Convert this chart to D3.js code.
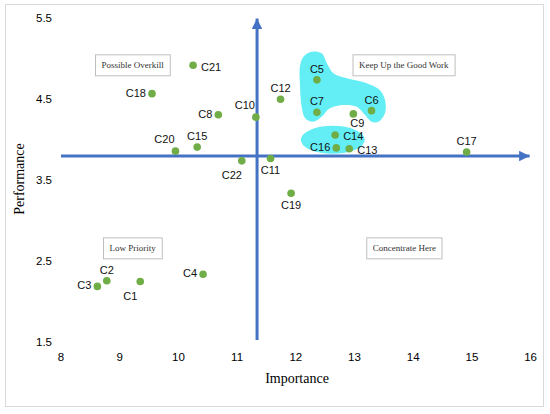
<!DOCTYPE html>
<html>
<head>
<meta charset="utf-8">
<script src="https://cdn.jsdelivr.net/npm/d3@7"></script>
<style>
body{margin:0;background:#fff;}
</style>
</head>
<body>
<div id="chart"></div>
<script>
// Importance-performance matrix
var names = ["C1","C2","C3","C4","C5","C6","C7","C8","C9","C10","C11","C12","C13","C14","C15","C16","C17","C18","C19","C20","C21","C22"];
var importance = [9.35,8.78,8.62,10.42,12.36,13.29,12.36,10.68,12.98,11.32,11.57,11.74,12.91,12.67,10.32,12.69,14.91,9.55,11.92,9.95,10.25,11.08];
var performance = [2.24,2.25,2.18,2.33,4.73,4.35,4.33,4.30,4.31,4.27,3.76,4.49,3.88,4.05,3.90,3.89,3.84,4.56,3.33,3.85,4.91,3.73];
var xTicks = [8,9,10,11,12,13,14,15,16];
var yTicks = [1.5,2.5,3.5,4.5,5.5];
var crossX = 11.34, crossY = 3.79;
var quadNames = ["Possible Overkill","Keep Up the Good Work","Low Priority","Concentrate Here"];
var quadX = [9.22,13.84,9.22,13.85];
var quadY = [4.91,4.91,2.65,2.65];
// highlighted groups (data units)
var blobX = [12.13,12.27,12.44,12.53,12.64,12.87,13.21,13.43,13.52,13.52,13.41,13.29,13.18,13.04,12.81,12.58,12.44,12.30,12.16,12.10,12.07,12.07];
var blobY = [5.016,5.078,5.058,4.935,4.811,4.749,4.688,4.605,4.481,4.321,4.214,4.214,4.296,4.399,4.420,4.379,4.275,4.214,4.256,4.399,4.688,4.893];
var ovalCx = 12.63, ovalCy = 3.99, ovalRx = 0.545, ovalRy = 0.173;

// where each point label sits
var labelSide = {C1:"bl",C2:"t",C3:"l",C4:"l",C5:"t",C6:"t",C7:"t",C8:"l",C9:"br",C10:"tl",C11:"b",
	C12:"t",C13:"r",C14:"r",C15:"t",C16:"l",C17:"t",C18:"l",C19:"b",C20:"tl",C21:"r",C22:"bl"};
var sideOff = {t:[0,-11,"middle"],b:[0,11.5,"middle"],br:[4,9.5,"middle"],l:[-6,-1,"end"],r:[8,1.5,"start"],tl:[-11,-12,"middle"],bl:[-10,14,"middle"]};

var width = 550, height = 414;
var blue = "#4472C4", green = "#70AD47";

var x = d3.scaleLinear().domain([8,16]).range([61,530.6]);
var y = d3.scaleLinear().domain([1.5,5.5]).range([341.5,17.5]);

var svg = d3.select("#chart").append("svg")
	.attr("width",width)
	.attr("height",height);

svg.append("rect")
	.attr("x",5.5).attr("y",4.5)
	.attr("width",538).attr("height",402)
	.attr("fill","#fff")
	.attr("stroke","#d9d9d9");

// cyan groups
svg.append("path")
	.datum(d3.range(blobX.length))
	.attr("d",d3.line().x(i=>x(blobX[i])).y(i=>y(blobY[i])).curve(d3.curveCatmullRomClosed))
	.attr("fill","#63EEF6");
svg.append("ellipse")
	.attr("cx",x(ovalCx)).attr("cy",y(ovalCy))
	.attr("rx",x(ovalCx+ovalRx)-x(ovalCx))
	.attr("ry",y(ovalCy)-y(ovalCy+ovalRy))
	.attr("fill","#63EEF6");

// axis tick labels
svg.append("g").selectAll("text")
	.data(xTicks)
	.join("text")
	.attr("x",d=>x(d))
	.attr("y",357)
	.attr("text-anchor","middle")
	.attr("dominant-baseline","central")
	.style("font-family","'Liberation Sans', Arial, sans-serif")
	.style("font-size","11.5px")
	.text(d=>d);

svg.append("g").selectAll("text")
	.data(yTicks)
	.join("text")
	.attr("x",52)
	.attr("y",d=>y(d))
	.attr("text-anchor","end")
	.attr("dominant-baseline","central")
	.style("font-family","'Liberation Sans', Arial, sans-serif")
	.style("font-size","11.5px")
	.text(d=>d3.format(".1f")(d));

svg.append("text")
	.attr("x",297).attr("y",378)
	.attr("text-anchor","middle")
	.attr("dominant-baseline","central")
	.style("font-family","'Liberation Serif', 'Times New Roman', serif")
	.style("font-size","14px")
	.text("Importance");

svg.append("text")
	.attr("transform","translate(19,179) rotate(-90)")
	.attr("text-anchor","middle")
	.attr("dominant-baseline","central")
	.style("font-family","'Liberation Serif', 'Times New Roman', serif")
	.style("font-size","14px")
	.text("Performance");

// crosshair with arrows
var defs = svg.append("defs");
defs.append("marker")
	.attr("id","arrow")
	.attr("viewBox","0 0 10 10")
	.attr("refX",10).attr("refY",5)
	.attr("markerWidth",3.5).attr("markerHeight",3.5)
	.attr("markerUnits","strokeWidth")
	.attr("orient","auto")
	.append("path")
	.attr("d","M0,0L10,5L0,10Z")
	.attr("fill",blue);

svg.append("line")
	.attr("x1",x(8)).attr("x2",x(16)-1)
	.attr("y1",y(crossY)).attr("y2",y(crossY))
	.attr("stroke",blue).attr("stroke-width",3)
	.attr("marker-end","url(#arrow)");
svg.append("line")
	.attr("x1",x(crossX)).attr("x2",x(crossX))
	.attr("y1",y(1.5)-1.5).attr("y2",y(5.5)+1)
	.attr("stroke",blue).attr("stroke-width",3)
	.attr("marker-end","url(#arrow)");

// quadrant notes
var notes = svg.append("g").selectAll("g")
	.data(quadNames)
	.join("g")
	.attr("transform",(d,i)=>`translate(${x(quadX[i])},${y(quadY[i])})`);
notes.append("text")
	.attr("text-anchor","middle")
	.attr("dominant-baseline","central")
	.style("font-family","'Liberation Serif', 'Times New Roman', serif")
	.style("font-size","9px")
	.attr("fill","#333")
	.text(d=>d);
notes.each(function(){
	var g = d3.select(this);
	var b = g.select("text").node().getBBox();
	g.insert("rect","text")
		.attr("x",b.x-6).attr("y",-10.5)
		.attr("width",b.width+12).attr("height",21)
		.attr("fill","#fff")
		.attr("stroke","#bfbfbf");
});

// points
var idx = d3.range(names.length);
svg.append("g").selectAll("circle")
	.data(idx)
	.join("circle")
	.attr("cx",i=>x(importance[i]))
	.attr("cy",i=>y(performance[i]))
	.attr("r",3.8)
	.attr("fill",green);

svg.append("g").selectAll("text")
	.data(idx)
	.join("text")
	.attr("x",i=>x(importance[i])+sideOff[labelSide[names[i]]][0])
	.attr("y",i=>y(performance[i])+sideOff[labelSide[names[i]]][1])
	.attr("text-anchor",i=>sideOff[labelSide[names[i]]][2])
	.attr("dominant-baseline","central")
	.style("font-family","'Liberation Sans', Arial, sans-serif")
	.style("font-size","11px")
	.attr("fill","#111")
	.text(i=>names[i]);
</script>
</body>
</html>
